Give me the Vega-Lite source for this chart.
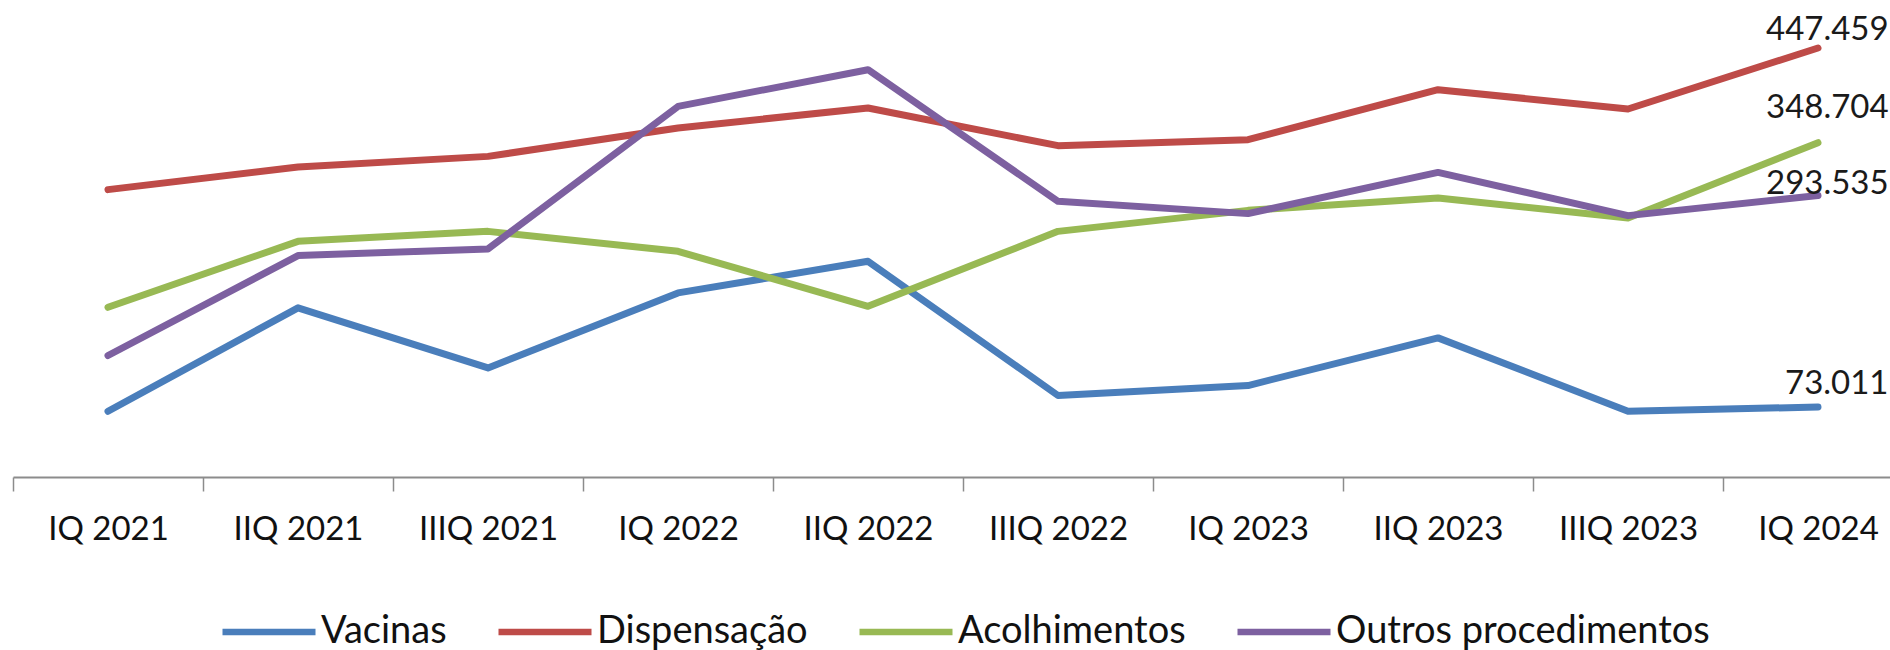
{
  "$schema": "https://vega.github.io/schema/vega-lite/v6.json",
  "autosize": {"type": "none"},
  "width": 1877,
  "height": 477,
  "padding": {"left": 13, "top": 0, "right": 0, "bottom": 173},
  "background": "white",
  "config": {
    "view": {"stroke": null},
    "font": "Lato",
    "text": {"font": "Lato"}
  },
  "data": {
    "values": [
      {"q": "IQ 2021", "serie": "Vacinas", "v": 68.6},
      {"q": "IIQ 2021", "serie": "Vacinas", "v": 176.4},
      {"q": "IIIQ 2021", "serie": "Vacinas", "v": 113.8},
      {"q": "IQ 2022", "serie": "Vacinas", "v": 192.0},
      {"q": "IIQ 2022", "serie": "Vacinas", "v": 225.0},
      {"q": "IIIQ 2022", "serie": "Vacinas", "v": 85.0},
      {"q": "IQ 2023", "serie": "Vacinas", "v": 95.4},
      {"q": "IIQ 2023", "serie": "Vacinas", "v": 145.1},
      {"q": "IIIQ 2023", "serie": "Vacinas", "v": 68.6},
      {"q": "IQ 2024", "serie": "Vacinas", "v": 73.011},
      {"q": "IQ 2021", "serie": "Dispensação", "v": 299.7},
      {"q": "IIQ 2021", "serie": "Dispensação", "v": 323.4},
      {"q": "IIIQ 2021", "serie": "Dispensação", "v": 334.4},
      {"q": "IQ 2022", "serie": "Dispensação", "v": 364.0},
      {"q": "IIQ 2022", "serie": "Dispensação", "v": 384.9},
      {"q": "IIIQ 2022", "serie": "Dispensação", "v": 345.6},
      {"q": "IQ 2023", "serie": "Dispensação", "v": 351.8},
      {"q": "IIQ 2023", "serie": "Dispensação", "v": 404.0},
      {"q": "IIIQ 2023", "serie": "Dispensação", "v": 383.8},
      {"q": "IQ 2024", "serie": "Dispensação", "v": 447.459},
      {"q": "IQ 2021", "serie": "Acolhimentos", "v": 177.0},
      {"q": "IIQ 2021", "serie": "Acolhimentos", "v": 245.8},
      {"q": "IIIQ 2021", "serie": "Acolhimentos", "v": 256.2},
      {"q": "IQ 2022", "serie": "Acolhimentos", "v": 235.4},
      {"q": "IIQ 2022", "serie": "Acolhimentos", "v": 178.0},
      {"q": "IIIQ 2022", "serie": "Acolhimentos", "v": 256.2},
      {"q": "IQ 2023", "serie": "Acolhimentos", "v": 278.1},
      {"q": "IIQ 2023", "serie": "Acolhimentos", "v": 291.0},
      {"q": "IIIQ 2023", "serie": "Acolhimentos", "v": 270.2},
      {"q": "IQ 2024", "serie": "Acolhimentos", "v": 348.704},
      {"q": "IQ 2021", "serie": "Outros procedimentos", "v": 126.7},
      {"q": "IIQ 2021", "serie": "Outros procedimentos", "v": 230.9},
      {"q": "IIIQ 2021", "serie": "Outros procedimentos", "v": 237.9},
      {"q": "IQ 2022", "serie": "Outros procedimentos", "v": 386.5},
      {"q": "IIQ 2022", "serie": "Outros procedimentos", "v": 424.8},
      {"q": "IIIQ 2022", "serie": "Outros procedimentos", "v": 287.5},
      {"q": "IQ 2023", "serie": "Outros procedimentos", "v": 274.7},
      {"q": "IIQ 2023", "serie": "Outros procedimentos", "v": 317.7},
      {"q": "IIIQ 2023", "serie": "Outros procedimentos", "v": 272.6},
      {"q": "IQ 2024", "serie": "Outros procedimentos", "v": 293.535}
    ]
  },
  "encoding": {
    "x": {
      "field": "q",
      "type": "ordinal",
      "sort": null,
      "bandPosition": 0.5,
      "scale": {"type": "band", "paddingInner": 0, "paddingOuter": 0, "range": [0, 1900]},
      "axis": {
        "title": null,
        "labelAngle": 0,
        "labelFont": "Lato",
        "labelFontSize": 33,
        "labelColor": "#111111",
        "labelPadding": 22,
        "tickBand": "extent",
        "tickSize": 14,
        "tickWidth": 1.5,
        "tickColor": "#8c8c8c",
        "domainColor": "#8c8c8c",
        "domainWidth": 2,
        "grid": false
      }
    },
    "y": {
      "field": "v",
      "type": "quantitative",
      "scale": {"domain": [0, 497.5], "nice": false, "zero": true},
      "axis": null
    }
  },
  "layer": [
    {
      "mark": {"type": "line", "strokeWidth": 7, "strokeCap": "round", "strokeJoin": "round"},
      "encoding": {
        "color": {
          "field": "serie",
          "type": "nominal",
          "scale": {
            "domain": ["Vacinas", "Dispensação", "Acolhimentos", "Outros procedimentos"],
            "range": ["#4A7EBB", "#BE4B48", "#98B954", "#7D60A0"]
          },
          "legend": {
            "title": null,
            "orient": "none",
            "direction": "horizontal",
            "legendX": 206,
            "legendY": 582,
            "symbolType": "stroke",
            "symbolSize": 8649,
            "symbolStrokeWidth": 6.5,
            "labelFont": "Lato",
            "labelFontSize": 38,
            "labelColor": "#111111",
            "labelLimit": 0,
            "labelOffset": 2,
            "columnPadding": 38
          }
        }
      }
    },
    {
      "transform": [{"filter": "datum.q == 'IQ 2024' && datum.serie == 'Dispensação'"}],
      "mark": {"type": "text", "align": "left", "baseline": "middle", "dx": -52, "dy": -18, "fontSize": 33, "color": "#1a1a1a"},
      "encoding": {"text": {"field": "v", "type": "quantitative", "format": ".3f"}}
    },
    {
      "transform": [{"filter": "datum.q == 'IQ 2024' && datum.serie == 'Acolhimentos'"}],
      "mark": {"type": "text", "align": "left", "baseline": "middle", "dx": -52, "dy": -35, "fontSize": 33, "color": "#1a1a1a"},
      "encoding": {"text": {"field": "v", "type": "quantitative", "format": ".3f"}}
    },
    {
      "transform": [{"filter": "datum.q == 'IQ 2024' && datum.serie == 'Outros procedimentos'"}],
      "mark": {"type": "text", "align": "left", "baseline": "middle", "dx": -52, "dy": -12, "fontSize": 33, "color": "#1a1a1a"},
      "encoding": {"text": {"field": "v", "type": "quantitative", "format": ".3f"}}
    },
    {
      "transform": [{"filter": "datum.q == 'IQ 2024' && datum.serie == 'Vacinas'"}],
      "mark": {"type": "text", "align": "left", "baseline": "middle", "dx": -33, "dy": -23, "fontSize": 33, "color": "#1a1a1a"},
      "encoding": {"text": {"field": "v", "type": "quantitative", "format": ".3f"}}
    }
  ]
}
